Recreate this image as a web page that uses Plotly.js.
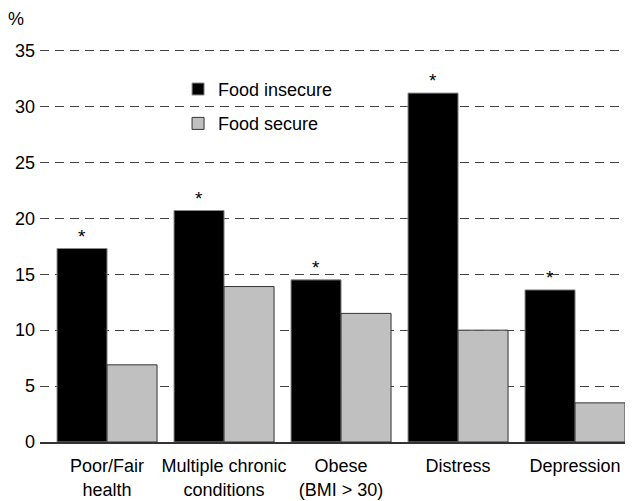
<!DOCTYPE html>
<html>
<head>
<meta charset="utf-8">
<script src="https://cdn.plot.ly/plotly-3.0.1.min.js"></script>
<style>html,body{margin:0;padding:0;background:#fff;}#chart{width:637px;height:501px;}</style>
</head>
<body>
<div id="chart"></div>
<script>
const categories = ["Poor/Fair<br>health", "Multiple chronic<br>conditions", "Obese<br>(BMI > 30)", "Distress", "Depression"];
const foodInsecure = [17.3, 20.7, 14.5, 31.2, 13.6];
const foodSecure = [6.9, 13.9, 11.5, 10.0, 3.5];
const significant = [true, true, true, true, true];
const yTicks = [0, 5, 10, 15, 20, 25, 30, 35];

const FONT = "Liberation Sans, Arial, sans-serif";
const FS = 18;

const traces = [
  {
    type: "bar", name: "Food insecure", x: categories, y: foodInsecure,
    marker: {color: "#000000", line: {color: "#8a8a8a", width: 1}},
    legendgroup: "a", hoverinfo: "none"
  },
  {
    type: "bar", name: "Food secure", x: categories, y: foodSecure,
    marker: {color: "#c0c0c0", line: {color: "#333333", width: 1}},
    legendgroup: "b", hoverinfo: "none"
  }
];

const annotations = [];
categories.forEach((c, i) => {
  if (significant[i]) {
    annotations.push({
      x: c, y: foodInsecure[i], xref: "x", yref: "y",
      text: "*", showarrow: false, xshift: -25, yanchor: "bottom", yshift: 0,
      font: {family: FONT, size: 19, color: "#000"}
    });
  }
});
annotations.push({
  xref: "paper", yref: "paper", x: -0.041, y: 1.066, xanchor: "center", yanchor: "middle",
  text: "%", showarrow: false, font: {family: FONT, size: FS, color: "#000"}
});

const layout = {
  width: 637, height: 501,
  margin: {l: 40, r: 12, t: 45, b: 59},
  paper_bgcolor: "#fff", plot_bgcolor: "#fff",
  font: {family: FONT, size: FS, color: "#000"},
  barmode: "group", bargap: 0.145, bargroupgap: 0,
  showlegend: true,
  legend: {
    x: 0.236, y: 0.935, xanchor: "left", yanchor: "top",
    bgcolor: "rgba(0,0,0,0)", font: {family: FONT, size: FS, color: "#000"},
    traceorder: "grouped", tracegroupgap: 8
  },
  xaxis: {
    type: "category", range: [-0.573, 4.427],
    showline: true, linecolor: "#333", linewidth: 1.5,
    ticks: "", showgrid: false, zeroline: false,
    tickfont: {family: FONT, size: FS, color: "#000"}, ticklabelstandoff: 7
  },
  yaxis: {
    range: [0, 35.5], tickvals: yTicks, ticktext: yTicks.map(String),
    showline: false, ticks: "", zeroline: false,
    showgrid: true, gridcolor: "#444", gridwidth: 1, griddash: "9px,6px",
    tickfont: {family: FONT, size: FS, color: "#000"}, ticklabelstandoff: 4
  },
  annotations: annotations
};

Plotly.newPlot("chart", traces, layout, {staticPlot: true, displayModeBar: false});
</script>
</body>
</html>
